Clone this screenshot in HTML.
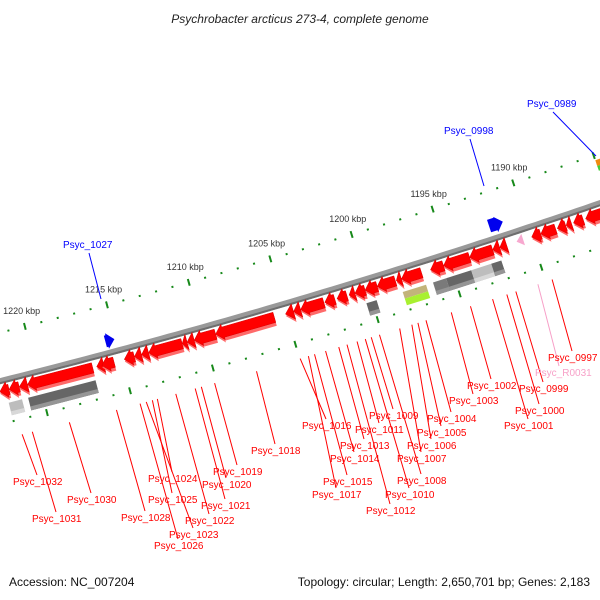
<!DOCTYPE html>
<html><head><meta charset="utf-8"><style>
html,body{margin:0;padding:0;background:#fff;}
svg{display:block;font-family:"Liberation Sans",sans-serif;}
</style></head><body>
<svg id="map" width="600" height="600" viewBox="0 0 600 600" xmlns="http://www.w3.org/2000/svg">
<rect width="600" height="600" fill="#fff"/>
<text x="300" y="23" text-anchor="middle" font-size="12" font-style="italic" fill="#222">Psychrobacter arcticus 273-4, complete genome</text>
<text x="9" y="586" font-size="12" fill="#111">Accession: NC_007204</text>
<text x="590" y="586" text-anchor="end" font-size="12" fill="#111">Topology: circular; Length: 2,650,701 bp; Genes: 2,183</text>
<g id="layer"></g>
</svg>
<script>
// ---- data (kbp) ----
const geneLo = [1221.81,1221.20,1220.70,1216.76,1216.09,1215.47,1214.24,1213.81,1213.38,1211.34,1211.04,1210.61,1209.31,1205.74,1204.57,1204.14,1202.72,1202.05,1201.31,1200.82,1200.20,1199.46,1198.35,1197.98,1196.75,1195.40,1193.80,1192.38,1191.95,1191.52,1189.42,1188.50,1187.88,1187.52,1186.80,1185.54,1184.81];
const geneHi = [1222.37,1221.81,1221.20,1220.70,1216.52,1216.21,1214.85,1214.24,1213.81,1213.38,1211.34,1211.04,1210.61,1209.31,1205.06,1204.57,1204.14,1202.66,1201.92,1201.18,1200.82,1200.20,1199.46,1198.29,1197.98,1196.20,1195.40,1193.80,1192.38,1191.95,1189.98,1189.42,1188.40,1187.85,1187.40,1186.65,1185.54];
const blockLo = [1221.22,1216.79,1199.73,1196.71,1195.48,1193.94,1192.71,1192.09];
const blockHi = [1222.02,1220.85,1200.35,1198.13,1196.28,1195.48,1193.94,1192.71];
const blockKind = ["light","dark","dark","tan","mid","dark","light","dark"];
const labelNames = ["Psyc_1032","Psyc_1031","Psyc_1030","Psyc_1028","Psyc_1026","Psyc_1023","Psyc_1025","Psyc_1024","Psyc_1022","Psyc_1021","Psyc_1020","Psyc_1019","Psyc_1018","Psyc_1016","Psyc_1017","Psyc_1015","Psyc_1014","Psyc_1013","Psyc_1012","Psyc_1011","Psyc_1010","Psyc_1009","Psyc_1008","Psyc_1007","Psyc_1006","Psyc_1005","Psyc_1004","Psyc_1003","Psyc_1002","Psyc_1001","Psyc_1000","Psyc_0999","Psyc_R0031","Psyc_0997"];
const labelKbp = [1221.71,1221.10,1218.88,1216.05,1214.63,1214.26,1213.89,1213.59,1212.48,1211.31,1210.94,1210.14,1207.61,1204.97,1204.47,1204.10,1203.43,1202.63,1202.13,1201.52,1201.02,1200.66,1200.16,1198.93,1198.19,1197.82,1197.33,1195.79,1194.62,1193.27,1192.40,1191.85,1190.50,1189.63];
const labelTX = [13,32,67,121,154,169,148,148,185,201,202,213,251,302,312,323,330,340,366,355,385,369,397,397,407,417,427,449,467,504,515,519,535,548];
const labelTY = [485,522,503,521,549,538,503,482,524,509,488,475,454,429,498,485,462,449,514,433,498,419,484,462,449,436,422,404,389,429,414,392,376,361];
const tickMajor = [1190,1195,1200,1205,1210,1215,1220];
const tickLabels = ["1190 kbp","1195 kbp","1200 kbp","1205 kbp","1210 kbp","1215 kbp","1220 kbp"];

// ---- geometry ----
const cx=-1774, cy=-6699, R0=7299;
function ang(x,y){return Math.atan2(y-cy,x-cx);}
const A1=ang(107,305), A2=ang(513,182);
function th(k){return A1+(k-1215)*(A2-A1)/(1190-1215);}
function P(k,v){const t=th(k), r=R0+v; return [cx+r*Math.cos(t), cy+r*Math.sin(t)];}
const NS="http://www.w3.org/2000/svg";
const layer=document.getElementById('layer');
function mk(tag,attrs){const e=document.createElementNS(NS,tag);for(const a in attrs)e.setAttribute(a,attrs[a]);layer.appendChild(e);return e;}
function pts(arr){return arr.map(p=>p[0].toFixed(1)+","+p[1].toFixed(1)).join(" ");}

// backbone
let bb=[];for(let k=1180;k<=1226;k+=0.5)bb.push(P(k,0));
let bb2=[];for(let k=1180;k<=1226;k+=0.5)bb2.push(P(k,2));
let e=mk('polyline',{points:pts(bb),fill:'none',stroke:'#999','stroke-width':6});


e=mk('polyline',{points:pts(bb2),fill:'none',stroke:'#6e6e6e','stroke-width':2});



// ticks
for(let k=1180;k<=1225;k++){
  const major=(k%5===0);
  [-47,42].forEach(v=>{
    const a=P(k,v-(major?3.5:1)), b=P(k,v+(major?3.5:1));
    const t=mk('line',{x1:a[0],y1:a[1],x2:b[0],y2:b[1],stroke:'#17891a','stroke-width':2});
    
    
  });
}
tickMajor.forEach((k,i)=>{
  const p=P(k,-60);
  const t=mk('text',{x:p[0],y:p[1],'text-anchor':'middle','font-size':9,fill:'#333'});
  t.textContent=tickLabels[i];
  
  
});

// genes
function arrowPoly(lo,hi,top,bot,htop,hbot,dir){
  const len=hi-lo, head=Math.min(0.45,len);
  const tip=(top+bot)/2;
  if(dir<0){
    const hb=hi-head;
    if(len<=0.5) return [P(hi,tip),P(lo,htop),P(lo,hbot)];
    return [P(hi,tip),P(hb,htop),P(hb,top),P(lo,top),P(lo,bot),P(hb,bot),P(hb,hbot)];
  } else {
    const hb=lo+head;
    if(len<=0.5) return [P(lo,tip),P(hi,htop),P(hi,hbot)];
    return [P(lo,tip),P(hb,htop),P(hb,top),P(hi,top),P(hi,bot),P(hb,bot),P(hb,hbot)];
  }
}
geneLo.forEach((lo,i)=>{
  const hi=geneHi[i];
  const g1=mk('polygon',{points:pts(arrowPoly(lo,hi,6,19,3,21,-1)),fill:'#ff6a6a'});
  
  
  const g2=mk('polygon',{points:pts(arrowPoly(lo,hi,5,15.5,2,18,-1)),fill:'#ff0000',stroke:'#d80000','stroke-width':0.5});
  
  
});
// blocks (second row)
const blockFill={light:'#bdbdbd',dark:'#666',mid:'#7a7a7a'};
blockLo.forEach((lo,i)=>{
  const hi=blockHi[i], kind=blockKind[i];
  if(kind==='tan'){
    let b=mk('polygon',{points:pts([P(lo,23),P(hi,23),P(hi,30),P(lo,30)]),fill:'#c2b47a'});
    
    
    b=mk('polygon',{points:pts([P(lo,30),P(hi,30),P(hi,37),P(lo,37)]),fill:'#a8f030'});
    
    
  } else {
    let b=mk('polygon',{points:pts([P(lo,23),P(hi,23),P(hi,36),P(lo,36)]),fill:blockFill[kind]});
    
    
    b=mk('polygon',{points:pts([P(lo,32),P(hi,32),P(hi,36),P(lo,36)]),fill:kind==='light'?'#d8d8d8':'#959595'});
    
    
  }
});
// small other features
e=mk('polygon',{points:pts(arrowPoly(1215.1,1215.65,-18,-6,-20,-4,1)),fill:'#0000ee'});


e=mk('polygon',{points:pts(arrowPoly(1191.3,1192.15,-20,-7,-21,-5,1)),fill:'#0000ee'});


e=mk('polygon',{points:pts(arrowPoly(1190.5,1190.9,5,15,4,16,-1)),fill:'#f7a8cf'});


e=mk('polygon',{points:pts([P(1185.0,-42),P(1184.4,-42),P(1184.4,-36),P(1185.0,-36)]),fill:'#f08a10'});


e=mk('polygon',{points:pts([P(1185.0,-36),P(1184.4,-36),P(1184.4,-31),P(1185.0,-31)]),fill:'#44cc33'});



// labels
labelNames.forEach((n,i)=>{
  const p=P(labelKbp[i],57);
  const col=n==='Psyc_R0031'?'#f7a0c8':'#ff0000';
  const ex=labelTX[i]+24, ey=labelTY[i]-10;
  const l=mk('line',{x1:p[0],y1:p[1],x2:ex,y2:ey,stroke:col,'stroke-width':1});
  
  
  const t=mk('text',{x:labelTX[i],y:labelTY[i],'font-size':10,fill:col});
  t.textContent=n;
  
  
});
// blue labels
const blueNames=["Psyc_1027","Psyc_0998","Psyc_0989"];
const blueTX=[63,444,527], blueTY=[248,134,107];
const blueEnd=[[101,299],[484,186],[596,156]];
blueNames.forEach((n,i)=>{
  const l=mk('line',{x1:blueTX[i]+26,y1:blueTY[i]+5,x2:blueEnd[i][0],y2:blueEnd[i][1],stroke:'#0000ff','stroke-width':1});
  
  
  const t=mk('text',{x:blueTX[i],y:blueTY[i],'font-size':10,fill:'#0000ff'});
  t.textContent=n;
  
  
});
</script>
</body></html>
